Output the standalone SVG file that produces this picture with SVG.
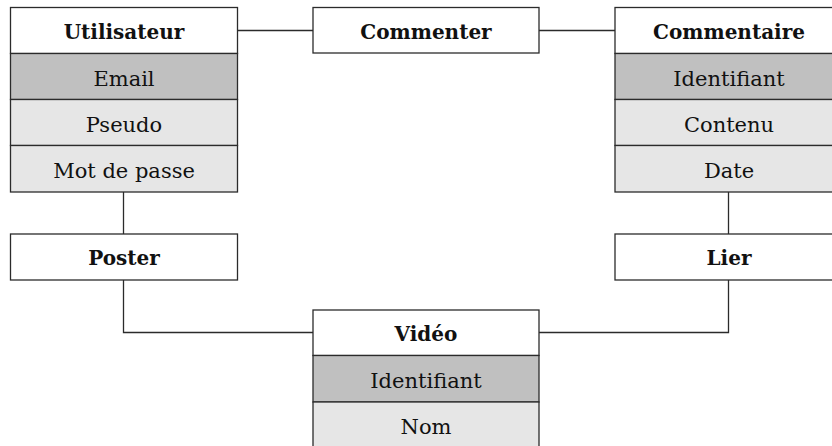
<svg xmlns="http://www.w3.org/2000/svg" width="832" height="446" viewBox="0 0 832 446">
  <style>
    .box { stroke: #2b2b2b; stroke-width: 1.3; }
    .title { fill: #ffffff; }
    .key { fill: #c0c0c0; }
    .attr { fill: #e6e6e6; }
    text { font-family: "DejaVu Serif", "Liberation Serif", serif; font-size: 21px; fill: #111; text-anchor: middle; }
    .bold { font-weight: bold; font-size: 20px; }
    .link { fill: none; stroke: #2b2b2b; stroke-width: 1.3; }
  </style>

  <g id="connectors">
    <path class="link" d="M237.5,30.5 H313"/>
    <path class="link" d="M539,30.5 H615"/>
    <path class="link" d="M123.5,192 V234"/>
    <path class="link" d="M728.5,192 V234"/>
    <path class="link" d="M123.5,280 V332.5 H313"/>
    <path class="link" d="M728.5,280 V332.5 H539"/>
  </g>

  <g id="utilisateur">
    <rect class="box title" x="10.5" y="7.5" width="227" height="46"/>
    <rect class="box key" x="10.5" y="53.5" width="227" height="46"/>
    <rect class="box attr" x="10.5" y="99.5" width="227" height="46"/>
    <rect class="box attr" x="10.5" y="145.5" width="227" height="46.5"/>
    <text class="bold" x="124" y="39">Utilisateur</text>
    <text x="124" y="86">Email</text>
    <text x="124" y="132">Pseudo</text>
    <text x="124" y="178">Mot de passe</text>
  </g>

  <g id="commenter">
    <rect class="box title" x="313" y="7.5" width="226" height="45.5"/>
    <text class="bold" x="426" y="39">Commenter</text>
  </g>

  <g id="commentaire">
    <rect class="box title" x="615" y="7.5" width="228" height="46"/>
    <rect class="box key" x="615" y="53.5" width="228" height="46"/>
    <rect class="box attr" x="615" y="99.5" width="228" height="46"/>
    <rect class="box attr" x="615" y="145.5" width="228" height="46.5"/>
    <text class="bold" x="729" y="39">Commentaire</text>
    <text x="729" y="86">Identifiant</text>
    <text x="729" y="132">Contenu</text>
    <text x="729" y="178">Date</text>
  </g>

  <g id="poster">
    <rect class="box title" x="10.5" y="234" width="227" height="46"/>
    <text class="bold" x="124" y="265">Poster</text>
  </g>

  <g id="lier">
    <rect class="box title" x="615" y="234" width="228" height="46"/>
    <text class="bold" x="729" y="265">Lier</text>
  </g>

  <g id="video">
    <rect class="box title" x="313" y="310" width="226" height="45.5"/>
    <rect class="box key" x="313" y="355.5" width="226" height="46.5"/>
    <rect class="box attr" x="313" y="402" width="226" height="46"/>
    <text class="bold" x="426" y="341">Vidéo</text>
    <text x="426" y="388">Identifiant</text>
    <text x="426" y="434">Nom</text>
  </g>
</svg>
